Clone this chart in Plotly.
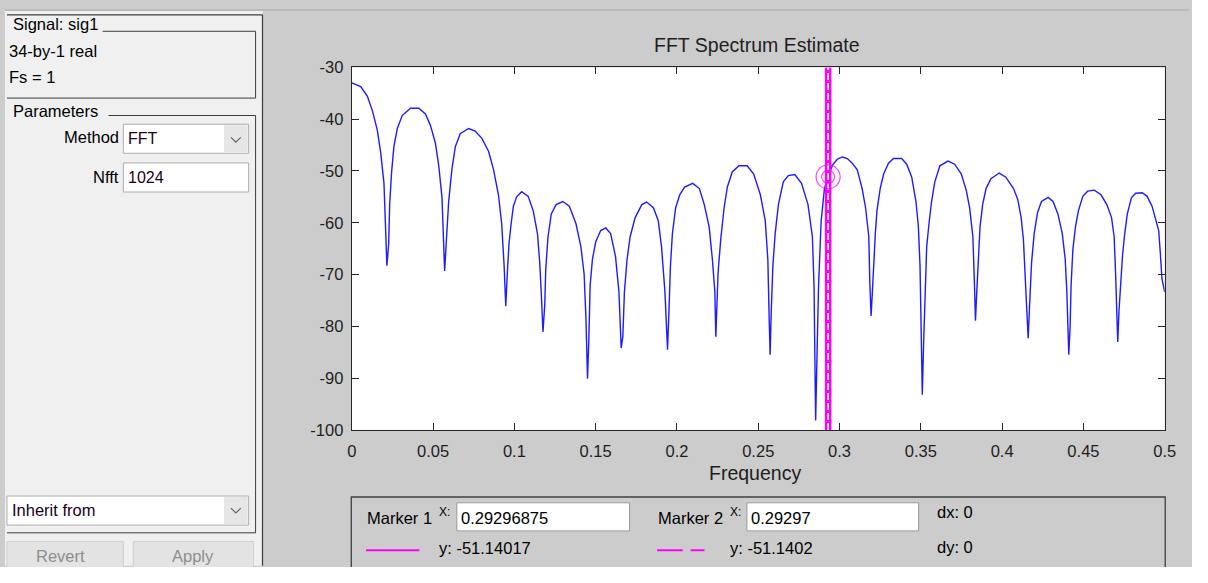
import plotly.graph_objects as go

# ---------------------------------------------------------------------------
# Spectrum data (frequency in cycles/sample, magnitude in dB)
# ---------------------------------------------------------------------------
freq = [
    0.0000, 0.0055, 0.0096, 0.0127, 0.0157, 0.0178, 0.0198, 0.0208, 0.0216, 0.0227,
    0.0233, 0.0245, 0.0259, 0.0280, 0.0310, 0.0361, 0.0412, 0.0453, 0.0484, 0.0514,
    0.0535, 0.0555, 0.0565, 0.0571, 0.0582, 0.0596, 0.0616, 0.0637, 0.0667, 0.0718,
    0.0759, 0.0800, 0.0841, 0.0871, 0.0902, 0.0922, 0.0937, 0.0947, 0.0957, 0.0967,
    0.0980, 0.0994, 0.1014, 0.1045, 0.1085, 0.1116, 0.1142, 0.1156, 0.1166, 0.1176,
    0.1187, 0.1193, 0.1207, 0.1227, 0.1257, 0.1298, 0.1338, 0.1379, 0.1409, 0.1429,
    0.1440, 0.1450, 0.1458, 0.1466, 0.1480, 0.1501, 0.1531, 0.1562, 0.1592, 0.1622,
    0.1643, 0.1653, 0.1657, 0.1667, 0.1677, 0.1693, 0.1712, 0.1743, 0.1784, 0.1814,
    0.1855, 0.1885, 0.1905, 0.1926, 0.1936, 0.1942, 0.1950, 0.1960, 0.1972, 0.1992,
    0.2017, 0.2047, 0.2097, 0.2138, 0.2168, 0.2198, 0.2218, 0.2233, 0.2239, 0.2245,
    0.2253, 0.2269, 0.2290, 0.2310, 0.2340, 0.2381, 0.2432, 0.2472, 0.2513, 0.2543,
    0.2559, 0.2567, 0.2573, 0.2580, 0.2590, 0.2604, 0.2624, 0.2654, 0.2685, 0.2725,
    0.2766, 0.2806, 0.2833, 0.2843, 0.2847, 0.2853, 0.2863, 0.2871, 0.2887, 0.2897,
    0.2907, 0.29297, 0.2956, 0.2987, 0.3017, 0.3048, 0.3078, 0.3109, 0.3139, 0.3160,
    0.3180, 0.3186, 0.3194, 0.3202, 0.3210, 0.3220, 0.3230, 0.3250, 0.3271, 0.3301,
    0.3332, 0.3382, 0.3413, 0.3444, 0.3470, 0.3485, 0.3495, 0.3503, 0.3509, 0.3517,
    0.3525, 0.3536, 0.3550, 0.3566, 0.3586, 0.3617, 0.3667, 0.3708, 0.3749, 0.3779,
    0.3800, 0.3820, 0.3830, 0.3836, 0.3844, 0.3852, 0.3864, 0.3880, 0.3901, 0.3931,
    0.3982, 0.4023, 0.4070, 0.4096, 0.4117, 0.4131, 0.4142, 0.4152, 0.4160, 0.4171,
    0.4181, 0.4197, 0.4218, 0.4242, 0.4283, 0.4313, 0.4343, 0.4370, 0.4388, 0.4398,
    0.4404, 0.4410, 0.4418, 0.4424, 0.4435, 0.4451, 0.4469, 0.4496, 0.4526, 0.4567,
    0.4608, 0.4644, 0.4673, 0.4689, 0.4699, 0.4705, 0.4711, 0.4719, 0.4729, 0.4740,
    0.4754, 0.4770, 0.4795, 0.4821, 0.4862, 0.4892, 0.4922, 0.4942, 0.4963, 0.4973,
    0.4983, 0.5000,
]
power_db = [
    -33.0, -33.7, -35.6, -38.4, -42.1, -46.5, -52.4, -61.8, -68.3, -64.0,
    -56.5, -50.2, -45.3, -41.8, -39.3, -37.9, -37.9, -39.0, -41.2, -44.6,
    -49.0, -55.2, -63.3, -69.3, -63.3, -55.9, -49.6, -45.3, -42.8, -41.8,
    -42.3, -43.7, -46.2, -49.6, -54.6, -60.2, -68.3, -76.1, -69.5, -64.0,
    -60.2, -56.8, -55.0, -54.0, -54.9, -57.7, -62.1, -67.7, -73.9, -81.1,
    -75.8, -68.9, -62.7, -58.3, -56.5, -55.9, -56.8, -60.2, -64.6, -69.9,
    -78.3, -90.1, -82.6, -72.1, -67.1, -63.6, -61.5, -61.0, -62.1, -66.5,
    -73.3, -81.4, -84.2, -82.0, -73.3, -67.1, -62.7, -59.0, -56.5, -56.0,
    -57.1, -59.6, -64.6, -73.3, -80.2, -84.5, -77.7, -68.3, -62.1, -57.1,
    -54.6, -53.1, -52.4, -53.4, -56.5, -60.8, -67.1, -73.3, -82.0, -77.7,
    -69.6, -63.3, -57.1, -53.1, -50.2, -49.0, -49.0, -50.6, -54.6, -59.6,
    -67.1, -78.3, -85.5, -77.0, -68.3, -62.1, -56.5, -52.1, -50.9, -50.7,
    -52.4, -56.5, -62.7, -72.1, -83.3, -98.2, -83.3, -72.1, -59.6, -55.9,
    -53.4, -51.14, -48.9, -47.7, -47.3, -47.6, -48.5, -49.8, -53.4, -57.1,
    -62.7, -71.4, -78.0, -73.3, -67.1, -62.1, -57.7, -53.4, -50.6, -48.5,
    -47.6, -47.6, -48.7, -51.2, -55.9, -60.8, -68.3, -81.4, -93.2, -83.3,
    -73.9, -64.6, -60.2, -55.9, -52.1, -49.0, -48.1, -48.7, -50.6, -53.7,
    -57.1, -62.7, -72.1, -78.9, -73.3, -67.1, -60.8, -56.5, -53.4, -51.5,
    -50.4, -51.2, -53.4, -55.5, -59.0, -63.3, -69.6, -77.0, -82.3, -74.5,
    -67.7, -62.1, -58.0, -55.9, -55.1, -55.9, -58.3, -62.1, -67.1, -73.3,
    -80.2, -85.5, -80.2, -72.1, -65.2, -60.8, -57.7, -54.9, -53.9, -53.7,
    -54.6, -56.5, -59.0, -62.7, -70.8, -75.7, -83.0, -76.9, -70.8, -66.5,
    -62.1, -58.3, -55.2, -54.3, -54.2, -54.9, -56.8, -59.0, -61.5, -65.9,
    -70.8, -73.4,
]

# Data cursor readouts
marker1_x = 0.29296875
marker1_y = -51.14017
marker2_x = 0.29297
marker2_y = -51.1402

# Axis ticks
x_tick_vals = [0.0, 0.05, 0.1, 0.15, 0.2, 0.25, 0.3, 0.35, 0.4, 0.45, 0.5]
x_tick_text = ["0", "0.05", "0.1", "0.15", "0.2", "0.25", "0.3", "0.35", "0.4", "0.45", "0.5"]
y_tick_vals = [-100, -90, -80, -70, -60, -50, -40, -30]
y_tick_text = ["-100", "-90", "-80", "-70", "-60", "-50", "-40", "-30"]

# ---------------------------------------------------------------------------
# The page body keeps the browser's default 8 px margin, so the figure is
# sized to fill the window inside it; layout helpers take window pixels.
PAGE_W, PAGE_H = 1208, 583
PAD = 8
W, H = PAGE_W - 2 * PAD, PAGE_H - 2 * PAD
FONT = "Liberation Sans"
PANEL = "#f0f0f0"
BG = "#cccccc"
EDGE = "#3c3c3c"
MAGENTA = "#ff00ff"
UI_SIZE = 16.5


def fx(x):
    return (x - PAD) / W


def fy(y):
    return 1 - (y - PAD) / H


shapes = []
annotations = []


def rect(x0, y0, x1, y1, fill=None, line=None, width=1.0):
    shapes.append(dict(
        type="rect", xref="paper", yref="paper",
        x0=fx(x0), x1=fx(x1), y0=fy(y1), y1=fy(y0),
        fillcolor=fill if fill else "rgba(0,0,0,0)",
        line=dict(color=line if line else "rgba(0,0,0,0)", width=width if line else 0),
    ))


def seg(x0, y0, x1, y1, color=EDGE, width=1.0, dash="solid"):
    shapes.append(dict(
        type="line", xref="paper", yref="paper",
        x0=fx(x0), x1=fx(x1), y0=fy(y0), y1=fy(y1),
        line=dict(color=color, width=width, dash=dash),
    ))


def chevron(cx, cy, color="#606060"):
    shapes.append(dict(
        type="path", xref="paper", yref="paper",
        path=f"M {fx(cx - 5)},{fy(cy - 2.5)} L {fx(cx)},{fy(cy + 2.5)} L {fx(cx + 5)},{fy(cy - 2.5)}",
        line=dict(color=color, width=1.1),
    ))


def text(s, x, y, size=UI_SIZE, color="#000000", anchor="left"):
    annotations.append(dict(
        text=s, x=fx(x), y=fy(y), xref="paper", yref="paper", showarrow=False,
        xanchor=anchor, yanchor="middle",
        font=dict(family=FONT, size=size, color=color),
    ))


def readout(v, digits):
    # avoid printing "-0" for differences that round to zero
    return f"{round(v, digits) + 0.0:.{digits}f}"


# --- window chrome ---------------------------------------------------------
seg(PAD, 9, PAGE_W, 9, color="#b4b4b4", width=1.5)
rect(PAD, 10, 269, PAGE_H, fill=PANEL)

# outer frame of the left panel
seg(10, 14, 269, 14, width=1.2)
seg(269, 14, 269, PAGE_H, width=1.2)

# "Signal" group box
seg(107, 31, 262, 31)
seg(262, 31, 262, 100)
seg(10, 100, 262, 100)
text("Signal: sig1", 14, 24)
text("34-by-1 real", 10, 51)
text("Fs = 1", 10, 78)

# "Parameters" group box
seg(113, 118, 262, 118)
seg(262, 118, 262, 549)
seg(10, 549, 262, 549)
text("Parameters", 14, 113)

# Method dropdown
text("Method", 126, 140, anchor="right")
rect(128, 127, 255, 157, fill="#ffffff", line="#acacac")
rect(230, 128, 254, 156, fill="#e6e6e6")
chevron(242, 143)
text("FFT", 131, 142, size=16, color="#1a001a")

# Nfft edit box
text("Nfft", 126, 181, anchor="right")
rect(128, 167, 255, 197, fill="#ffffff", line="#acacac")
text("1024", 131, 182, size=16, color="#1a001a")

# Inherit-from dropdown
rect(10, 511, 255, 541, fill="#ffffff", line="#acacac")
rect(230, 512, 254, 540, fill="#e6e6e6")
chevron(242, 526)
text("Inherit from", 13, 525, color="#1a001a")

# buttons
rect(10, 558, 128, 590, fill="#e3e3e3", line="#cfcfcf")
rect(138, 558, 260, 590, fill="#e3e3e3", line="#cfcfcf")
text("Revert", 64, 573, color="#8d8d8d", anchor="center")
text("Apply", 199, 573, color="#8d8d8d", anchor="center")

# --- marker readout panel ---------------------------------------------------
rect(359, 512, 1184, 592, fill=BG, line="#404040", width=1.3)
text("Marker 1", 373, 534)
text("X:", 446, 527, size=12)
rect(466, 518, 641, 547, fill="#ffffff", line="#9a9a9a")
text(f"{marker1_x:.8f}", 468, 534)
seg(374, 567, 428, 567, color=MAGENTA, width=2)
text(f"y: {marker1_y:.5f}", 446, 565)

text("Marker 2", 668, 534)
text("X:", 741, 527, size=12)
rect(760, 518, 934, 547, fill="#ffffff", line="#9a9a9a")
text(f"{marker2_x:.5f}", 762, 534)
seg(669, 567, 695, 567, color=MAGENTA, width=2)
seg(703, 567, 717, 567, color=MAGENTA, width=2)
text(f"y: {marker2_y:.4f}", 741, 565)

text(f"dx: {readout(marker2_x - marker1_x, 0)}", 951, 527)
text(f"dy: {readout(marker2_y - marker1_y, 0)}", 951, 564)

# --- plot titles ------------------------------------------------------------
text("FFT Spectrum Estimate", 770, 45, size=19.5, color="#1e1e1e", anchor="center")
text("Frequency", 768, 487, size=19.5, color="#1e1e1e", anchor="center")

# ---------------------------------------------------------------------------
fig = go.Figure()

fig.add_trace(go.Scatter(
    x=freq, y=power_db, mode="lines",
    line=dict(color="#1c1cff", width=1.4),
    hoverinfo="skip", showlegend=False,
))

# marker lines (solid marker 1, dashed marker 2 drawn over it)
fig.add_trace(go.Scatter(
    x=[marker1_x, marker1_x], y=[-100, -30], mode="lines",
    line=dict(color=MAGENTA, width=6.5), hoverinfo="skip", showlegend=False,
))
fig.add_trace(go.Scatter(
    x=[marker2_x, marker2_x], y=[-100, -30], mode="lines",
    line=dict(color="#ffffff", width=1.6, dash="7px,3px"), hoverinfo="skip", showlegend=False,
))

# marker rings at the cursor position
fig.add_trace(go.Scatter(
    x=[marker1_x, marker2_x], y=[marker1_y, marker2_y], mode="markers",
    marker=dict(symbol="circle-open", size=[24, 13], color=MAGENTA, line=dict(width=1.3, color=MAGENTA)),
    hoverinfo="skip", showlegend=False,
))

axis_common = dict(
    showline=True, linecolor="#262626", linewidth=1.2, mirror="ticks",
    ticks="inside", ticklen=7, tickwidth=1.2, tickcolor="#262626",
    showgrid=False, zeroline=False,
    tickfont=dict(family=FONT, size=16.5, color="#1e1e1e"),
)

fig.update_layout(
    width=W, height=H,
    margin=dict(l=0, r=0, t=0, b=0),
    paper_bgcolor=BG, plot_bgcolor="#ffffff",
    xaxis=dict(
        domain=[fx(359.5), fx(1183.5)], range=[0, 0.5],
        tickmode="array", tickvals=x_tick_vals, ticktext=x_tick_text,
        ticklabelstandoff=6, **axis_common,
    ),
    yaxis=dict(
        domain=[fy(442.7), fy(68.3)], range=[-100, -30],
        tickmode="array", tickvals=y_tick_vals, ticktext=y_tick_text,
        ticklabelstandoff=4, **axis_common,
    ),
    shapes=shapes,
    annotations=annotations,
    showlegend=False,
)

fig.write_html("out.html")
